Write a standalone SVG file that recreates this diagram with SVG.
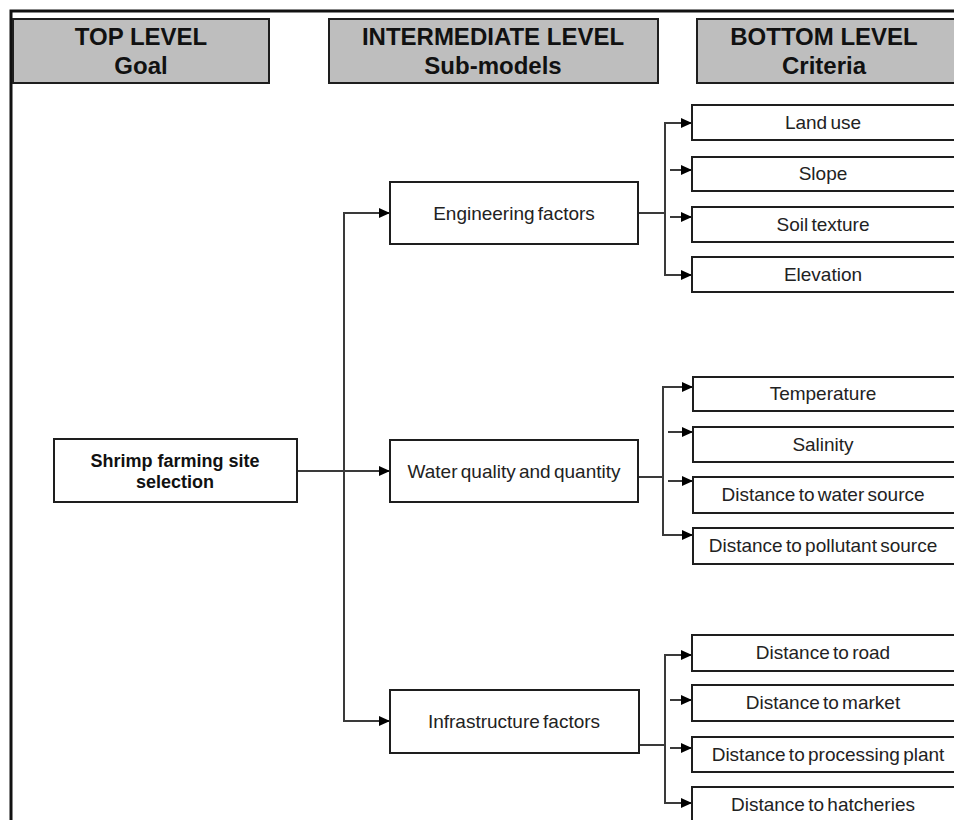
<svg xmlns="http://www.w3.org/2000/svg" width="954" height="820" viewBox="0 0 954 820">
<style>
.hdr{fill:#bebebe;stroke:#1e1e1e;stroke-width:2}
.box{fill:#fff;stroke:#1e1e1e;stroke-width:2}
.ht{font-family:"Liberation Sans",Arial,sans-serif;font-weight:bold;font-size:24px;fill:#111;text-anchor:middle}
.gt{font-family:"Liberation Sans",Arial,sans-serif;font-weight:bold;font-size:18px;fill:#111;text-anchor:middle}
.t{font-family:"Liberation Sans",Arial,sans-serif;font-size:19px;fill:#222;text-anchor:middle;word-spacing:-2px}
.c{fill:none;stroke:#3a3a3a;stroke-width:2}
</style>
<defs>
<marker id="ah" markerWidth="12" markerHeight="12" refX="11" refY="6" orient="auto" markerUnits="userSpaceOnUse">
<path d="M0,1 L11,6 L0,11 Z" fill="#000"/>
</marker>
</defs>
<rect width="954" height="820" fill="#fff"/>
<path d="M11,820 V11 H954" fill="none" stroke="#111" stroke-width="3"/>

<g id="hdr-top"><rect class="hdr" x="13" y="19" width="256" height="64"/><text class="ht" x="141" y="45">TOP LEVEL</text><text class="ht" x="141" y="74">Goal</text></g>
<g id="hdr-mid"><rect class="hdr" x="329" y="19" width="329" height="64"/><text class="ht" x="493" y="45">INTERMEDIATE LEVEL</text><text class="ht" x="493" y="74">Sub-models</text></g>
<g id="hdr-bot"><rect class="hdr" x="697" y="19" width="280" height="64"/><text class="ht" x="824" y="45">BOTTOM LEVEL</text><text class="ht" x="824" y="74">Criteria</text></g>

<g id="connectors">
<path class="c" d="M297,471 H390" marker-end="url(#ah)"/>
<path class="c" d="M344,471 V213 H390" marker-end="url(#ah)"/>
<path class="c" d="M344,471 V721 H390" marker-end="url(#ah)"/>

<path class="c" d="M638,213 H665"/>
<path class="c" d="M665,213 V123 H692" marker-end="url(#ah)"/>
<path class="c" d="M665,213 V275 H692" marker-end="url(#ah)"/>
<path class="c" d="M670,170 H692" marker-end="url(#ah)"/>
<path class="c" d="M670,217 H692" marker-end="url(#ah)"/>

<path class="c" d="M638,477 H663"/>
<path class="c" d="M663,477 V387 H693" marker-end="url(#ah)"/>
<path class="c" d="M663,477 V535 H693" marker-end="url(#ah)"/>
<path class="c" d="M668,432 H693" marker-end="url(#ah)"/>
<path class="c" d="M668,481 H693" marker-end="url(#ah)"/>

<path class="c" d="M639,745 H665"/>
<path class="c" d="M665,745 V655 H692" marker-end="url(#ah)"/>
<path class="c" d="M665,745 V803 H692" marker-end="url(#ah)"/>
<path class="c" d="M670,700 H692" marker-end="url(#ah)"/>
<path class="c" d="M670,748 H692" marker-end="url(#ah)"/>
</g>

<g id="goal"><rect class="box" x="54" y="439" width="243" height="63"/><text class="gt" x="175" y="467">Shrimp farming site</text><text class="gt" x="175" y="488">selection</text></g>

<g id="engineering"><rect class="box" x="390" y="182" width="248" height="62"/><text class="t" x="514" y="220">Engineering factors</text></g>
<g id="water"><rect class="box" x="390" y="440" width="248" height="62"/><text class="t" x="514" y="478">Water quality and quantity</text></g>
<g id="infrastructure"><rect class="box" x="390" y="690" width="249" height="63"/><text class="t" x="514" y="728">Infrastructure factors</text></g>

<g id="land-use"><rect class="box" x="692" y="105" width="280" height="35"/><text class="t" x="823" y="129">Land use</text></g>
<g id="slope"><rect class="box" x="692" y="157" width="280" height="34"/><text class="t" x="823" y="180">Slope</text></g>
<g id="soil-texture"><rect class="box" x="692" y="207" width="280" height="35"/><text class="t" x="823" y="231">Soil texture</text></g>
<g id="elevation"><rect class="box" x="692" y="257" width="280" height="35"/><text class="t" x="823" y="281">Elevation</text></g>

<g id="temperature"><rect class="box" x="693" y="377" width="280" height="34"/><text class="t" x="823" y="400">Temperature</text></g>
<g id="salinity"><rect class="box" x="693" y="427" width="280" height="35"/><text class="t" x="823" y="451">Salinity</text></g>
<g id="dist-water"><rect class="box" x="693" y="477" width="280" height="36"/><text class="t" x="823" y="501">Distance to water source</text></g>
<g id="dist-pollutant"><rect class="box" x="693" y="528" width="280" height="36"/><text class="t" x="823" y="552">Distance to pollutant source</text></g>

<g id="dist-road"><rect class="box" x="692" y="635" width="280" height="36"/><text class="t" x="823" y="659">Distance to road</text></g>
<g id="dist-market"><rect class="box" x="692" y="685" width="280" height="36"/><text class="t" x="823" y="709">Distance to market</text></g>
<g id="dist-processing"><rect class="box" x="692" y="737" width="280" height="35"/><text class="t" x="828" y="761">Distance to processing plant</text></g>
<g id="dist-hatcheries"><rect class="box" x="692" y="787" width="280" height="40"/><text class="t" x="823" y="811">Distance to hatcheries</text></g>
</svg>
